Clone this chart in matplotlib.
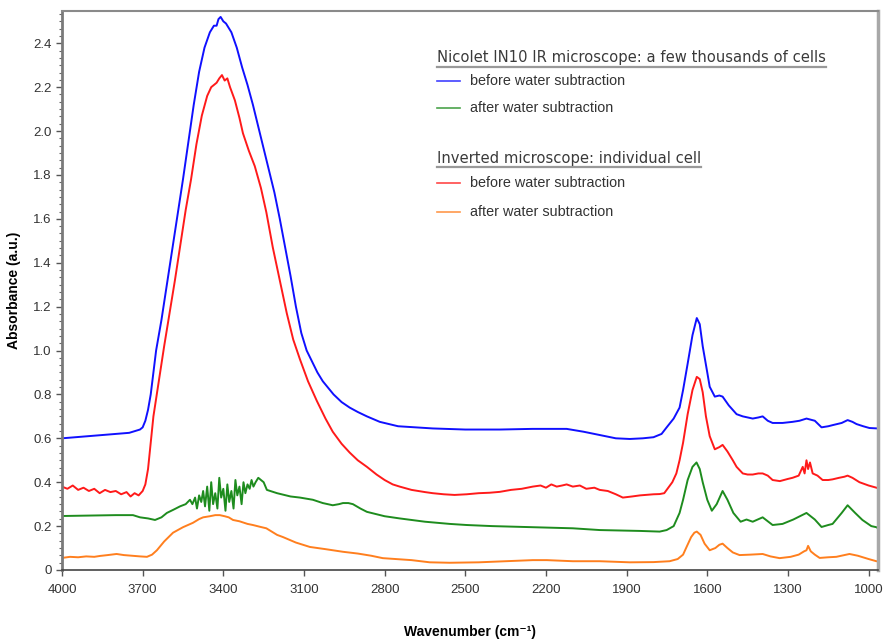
import numpy as np
import matplotlib
matplotlib.use("Agg")
import matplotlib.pyplot as plt
from matplotlib.ticker import FixedLocator, MultipleLocator, AutoMinorLocator, FuncFormatter

plt.rcParams['font.family'] = ['Liberation Sans', 'DejaVu Sans']

# Nicolet IN10, before water subtraction (blue)
nic_before_wn = [4000, 3900, 3800, 3750, 3710, 3700, 3690, 3680, 3670, 3660,
                 3650, 3630, 3610, 3590, 3570, 3550, 3530, 3510, 3490, 3470,
                 3450, 3435, 3425, 3418, 3410, 3400, 3390, 3370, 3350, 3330,
                 3310, 3290, 3270, 3250, 3230, 3210, 3190, 3170, 3150, 3130,
                 3110, 3090, 3070, 3050, 3030, 3010, 2990, 2960, 2930, 2900,
                 2866, 2818, 2750, 2621, 2500, 2372, 2250, 2123, 2060, 2000,
                 1940, 1888, 1840, 1800, 1770, 1751, 1725, 1703, 1690, 1673,
                 1655, 1639, 1628, 1617, 1600, 1591, 1572, 1555, 1543, 1520,
                 1491, 1468, 1431, 1410, 1394, 1375, 1357, 1320, 1283, 1257,
                 1231, 1200, 1175, 1150, 1134, 1100, 1078, 1060, 1045, 1020,
                 997, 967]
nic_before_abs = [0.60, 0.61, 0.62, 0.625, 0.64, 0.65, 0.68, 0.73, 0.80, 0.90,
                  1.00, 1.14, 1.30, 1.46, 1.62, 1.78, 1.95, 2.12, 2.27, 2.38,
                  2.45, 2.48, 2.48, 2.51, 2.52, 2.50, 2.49, 2.45, 2.38, 2.29,
                  2.21, 2.12, 2.02, 1.92, 1.82, 1.72, 1.60, 1.47, 1.34, 1.20,
                  1.08, 1.00, 0.95, 0.90, 0.86, 0.83, 0.80, 0.765, 0.74, 0.72,
                  0.70, 0.675, 0.655, 0.645, 0.64, 0.64, 0.643, 0.643, 0.63, 0.615,
                  0.60, 0.597, 0.60, 0.605, 0.62, 0.65, 0.69, 0.74, 0.82, 0.94,
                  1.07, 1.148, 1.12, 1.02, 0.90, 0.835, 0.79, 0.795, 0.79, 0.75,
                  0.71, 0.70, 0.69, 0.695, 0.70, 0.68, 0.67, 0.67, 0.675, 0.68,
                  0.69, 0.68, 0.65, 0.655, 0.66, 0.67, 0.683, 0.675, 0.665, 0.655,
                  0.647, 0.645]

# Nicolet IN10, after water subtraction (green)
nic_after_wn = [4000, 3900, 3800, 3736, 3710, 3680, 3654, 3630, 3610, 3585,
                3561, 3540, 3524,
                3515, 3505, 3498, 3490, 3482, 3475, 3468, 3460, 3452, 3445,
                3438, 3430, 3422, 3415, 3408, 3400, 3392, 3385, 3378, 3370,
                3362, 3355, 3348, 3340, 3332, 3325, 3318, 3310, 3302, 3295,
                3288, 3280, 3270,
                3250, 3238, 3200, 3150, 3115, 3067, 3030, 2993, 2970, 2955,
                2935, 2918, 2890, 2866, 2800, 2744, 2650, 2558, 2495, 2400,
                2249, 2100, 2000, 1850, 1777, 1751, 1725, 1703, 1690, 1673,
                1655, 1640, 1628, 1617, 1600, 1583, 1565, 1543, 1525, 1503,
                1476, 1454, 1431, 1394, 1357, 1320, 1280, 1231, 1200, 1175,
                1150, 1134, 1100, 1078, 1050, 1023, 990, 971, 965]
nic_after_abs = [0.246, 0.248, 0.25, 0.25, 0.24, 0.235, 0.228, 0.24, 0.26, 0.275,
                 0.29, 0.30, 0.32,
                 0.30, 0.33, 0.28, 0.34, 0.31, 0.36, 0.29, 0.38, 0.27, 0.40,
                 0.30, 0.35, 0.28, 0.42, 0.33, 0.37, 0.27, 0.39, 0.31, 0.36,
                 0.28, 0.41, 0.34, 0.38, 0.30, 0.40, 0.35, 0.39, 0.37, 0.41,
                 0.38, 0.40, 0.42,
                 0.40, 0.365, 0.35, 0.335, 0.33, 0.32, 0.305, 0.295, 0.30, 0.305,
                 0.305, 0.30, 0.28, 0.265, 0.245, 0.235, 0.22, 0.21, 0.205, 0.20,
                 0.195, 0.19, 0.182, 0.178, 0.175, 0.182, 0.20, 0.26, 0.32, 0.41,
                 0.47, 0.49, 0.46, 0.40, 0.32, 0.27, 0.30, 0.36, 0.32, 0.26,
                 0.22, 0.23, 0.22, 0.24, 0.205, 0.21, 0.23, 0.26, 0.23, 0.196,
                 0.205, 0.21, 0.26, 0.295, 0.26, 0.228, 0.20, 0.195, 0.19]

# Inverted microscope, before water subtraction (red)
inv_before_wn = [4000, 3980, 3960, 3940, 3920, 3900, 3880, 3860, 3840, 3820,
                 3800, 3780, 3760, 3745, 3730, 3715, 3700, 3690, 3680, 3670,
                 3660, 3640, 3620, 3600, 3580, 3560, 3540, 3520, 3500, 3480,
                 3460, 3445, 3435, 3425, 3415, 3405, 3395, 3385, 3375, 3357,
                 3340, 3327, 3305, 3283, 3260, 3240, 3216, 3190, 3164, 3140,
                 3115, 3085, 3052, 3020, 2993, 2960, 2930, 2900, 2866, 2830,
                 2800, 2770, 2744, 2700, 2650, 2621, 2580, 2540, 2495, 2450,
                 2410, 2372, 2330, 2290, 2249, 2220, 2200, 2180, 2160, 2140,
                 2123, 2100, 2074, 2050, 2020, 2000, 1970, 1940, 1914, 1880,
                 1850, 1820, 1800, 1777, 1760, 1751, 1730, 1715, 1703, 1690,
                 1673, 1655, 1639, 1628, 1617, 1605, 1591, 1572, 1555, 1543,
                 1525, 1505, 1491, 1468, 1450, 1431, 1410, 1394, 1375, 1357,
                 1330, 1300, 1283, 1260, 1245, 1238, 1231, 1225, 1218, 1208,
                 1190, 1171, 1150, 1134, 1110, 1090, 1078, 1060, 1034, 1000,
                 971]
inv_before_abs = [0.38, 0.37, 0.385, 0.365, 0.375, 0.36, 0.37, 0.35, 0.365, 0.355,
                  0.36, 0.345, 0.355, 0.335, 0.35, 0.34, 0.36, 0.39, 0.46, 0.58,
                  0.70, 0.86, 1.02, 1.17, 1.32, 1.48, 1.64, 1.78, 1.94, 2.07,
                  2.16, 2.20, 2.21, 2.22, 2.24, 2.255, 2.23, 2.24, 2.20, 2.14,
                  2.06, 1.99, 1.91, 1.84, 1.74, 1.63, 1.47, 1.32, 1.17, 1.05,
                  0.96, 0.86, 0.77, 0.69, 0.63, 0.575, 0.535, 0.50, 0.47, 0.435,
                  0.41, 0.39, 0.38, 0.365, 0.355, 0.35, 0.345, 0.342, 0.345, 0.35,
                  0.352, 0.356, 0.365, 0.37, 0.38, 0.385, 0.375, 0.39, 0.38, 0.385,
                  0.39, 0.38, 0.385, 0.37, 0.375, 0.365, 0.36, 0.345, 0.33, 0.335,
                  0.34, 0.343, 0.345, 0.346, 0.35, 0.365, 0.40, 0.44, 0.50, 0.58,
                  0.71, 0.82, 0.88, 0.87, 0.81, 0.70, 0.61, 0.55, 0.56, 0.57,
                  0.54, 0.50, 0.47, 0.44, 0.435, 0.435, 0.44, 0.44, 0.43, 0.41,
                  0.405, 0.415, 0.42, 0.43, 0.47, 0.44, 0.50, 0.46, 0.49, 0.44,
                  0.43, 0.41, 0.41, 0.413, 0.42, 0.425, 0.43, 0.42, 0.40, 0.385,
                  0.375]

# Inverted microscope, after water subtraction (orange)
inv_after_wn = [4000, 3970, 3940, 3910, 3880, 3859, 3830, 3797, 3770, 3740,
                3710, 3684, 3665, 3647, 3620, 3587, 3550, 3513, 3490, 3475,
                3450, 3430, 3413, 3395, 3380, 3364, 3340, 3310, 3290, 3264,
                3240, 3220, 3200, 3178, 3130, 3078, 3020, 2955, 2900, 2850,
                2807, 2700, 2632, 2558, 2450, 2350, 2249, 2197, 2100, 2000,
                1888, 1800, 1740, 1710, 1690, 1677, 1660, 1648, 1639, 1625,
                1610, 1591, 1570, 1555, 1543, 1525, 1505, 1480, 1440, 1394,
                1365, 1331, 1290, 1260, 1240, 1231, 1225, 1215, 1200, 1182,
                1150, 1120, 1090, 1071, 1040, 1000, 971, 965]
inv_after_abs = [0.055, 0.06, 0.058, 0.062, 0.06, 0.064, 0.068, 0.073, 0.068, 0.065,
                 0.062, 0.06, 0.07, 0.09, 0.13, 0.17, 0.195, 0.215, 0.232, 0.24,
                 0.245, 0.25, 0.25, 0.245, 0.24, 0.228, 0.222, 0.21, 0.205, 0.197,
                 0.19, 0.175, 0.16, 0.15, 0.125, 0.105, 0.095, 0.083, 0.075, 0.065,
                 0.054, 0.045, 0.035, 0.033, 0.035, 0.04, 0.045, 0.045, 0.04, 0.04,
                 0.035, 0.036, 0.04, 0.05, 0.07, 0.105, 0.15, 0.17, 0.175, 0.16,
                 0.12, 0.09, 0.1, 0.115, 0.12, 0.1, 0.08, 0.068, 0.07, 0.073,
                 0.062, 0.054, 0.06, 0.07, 0.085, 0.09, 0.11, 0.085, 0.07, 0.055,
                 0.058, 0.06, 0.068, 0.073, 0.065, 0.05, 0.04, 0.04]

x_ticks = [4000, 3700, 3400, 3100, 2800, 2500, 2200, 1900, 1600, 1300, 1000]

header1 = "Nicolet IN10 IR microscope: a few thousands of cells"
header2 = "Inverted microscope: individual cell"
label_before = "before water subtraction"
label_after = "after water subtraction"

c_blue, c_green, c_red, c_orange = '#1010ff', '#1e8c1e', '#ff1a1a', '#ff7f1e'

fig = plt.figure(figsize=(8.86, 6.44), dpi=100)
ax = fig.add_axes([62/886, 74/644, 816/886, 559/644])

ax.plot(nic_before_wn, nic_before_abs, color=c_blue, lw=1.4)
ax.plot(inv_before_wn, inv_before_abs, color=c_red, lw=1.4)
ax.plot(nic_after_wn, nic_after_abs, color=c_green, lw=1.4)
ax.plot(inv_after_wn, inv_after_abs, color=c_orange, lw=1.4)

ax.set_xlim(4000, 965)
ax.set_ylim(0, 2.547)
ax.xaxis.set_major_locator(FixedLocator(x_ticks))
ax.yaxis.set_major_locator(MultipleLocator(0.2))
ax.yaxis.set_minor_locator(AutoMinorLocator(6))
ax.yaxis.set_major_formatter(FuncFormatter(lambda v, p: '0' if abs(v) < 1e-9 else f'{v:.1f}'))

ax.tick_params(axis='both', which='major', labelsize=9.5, colors='#555555',
               labelcolor='#333333', length=4, width=1)
ax.tick_params(axis='y', which='minor', length=2.5, width=0.8, colors='#666666')
ax.tick_params(axis='x', pad=6)

ax.spines['left'].set_color('#7a7a7a')
ax.spines['left'].set_linewidth(2)
ax.spines['bottom'].set_color('#444444')
ax.spines['bottom'].set_linewidth(1.2)
ax.spines['top'].set_color('#8a8a8a')
ax.spines['top'].set_linewidth(1.5)
ax.spines['right'].set_color('#a8a8a8')
ax.spines['right'].set_linewidth(2.5)

ax.set_xlabel("Wavenumber (cm⁻¹)", fontsize=10, fontweight='bold', labelpad=21)
ax.set_ylabel("Absorbance (a.u.)", fontsize=10, fontweight='bold', labelpad=9)

# legend drawn by hand in axes coordinates
xl0, xl1, xt = 0.4596, 0.4877, 0.5
rows = [(header1, None, 0.916), (label_before, c_blue, 0.875), (label_after, c_green, 0.826),
        (header2, None, 0.737), (label_before, c_red, 0.692), (label_after, c_orange, 0.640)]
headers = []
for txt, col, yy in rows:
    if col is None:
        t = ax.text(xl0, yy, txt, transform=ax.transAxes, fontsize=10.6,
                    family='DejaVu Sans', color='#3a3a3a', va='center', ha='left')
        headers.append(t)
    else:
        ax.plot([xl0, xl1], [yy, yy], color=col, lw=1.2, alpha=0.8,
                transform=ax.transAxes)
        ax.text(xt, yy, txt, transform=ax.transAxes, fontsize=10.4,
                color='#333333', va='center', ha='left')

fig.canvas.draw()
inv = ax.transAxes.inverted()
for t in headers:
    bb = t.get_window_extent()
    (x0, y0), (x1, y1) = inv.transform([[bb.x0, bb.y0], [bb.x1, bb.y1]])
    ax.plot([x0, x1], [y0 - 0.002, y0 - 0.002], color='#999999', lw=1.6,
            transform=ax.transAxes)

fig.savefig("out.png", dpi=100)
